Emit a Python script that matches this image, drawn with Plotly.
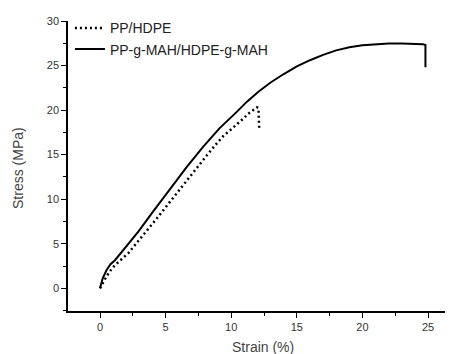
import plotly.graph_objects as go

strain_pp = [0, 0.25, 0.5, 0.8, 1.14, 1.6, 2.16, 2.8, 3.43, 4.2, 4.95, 5.72, 6.73, 7.4, 8.13, 8.8, 9.4, 10.0, 10.54, 11.0, 11.3, 11.6, 11.8, 11.95, 12.07, 12.12, 12.14]
stress_pp = [0, 0.75, 1.35, 2.0, 2.6, 3.2, 3.95, 5.1, 6.2, 7.6, 9.0, 10.45, 12.3, 13.6, 14.9, 16.1, 17.1, 17.85, 18.5, 19.15, 19.6, 19.95, 20.2, 20.3, 20.25, 19.0, 17.7]

strain_mah = [0, 0.2, 0.5, 0.8, 1.14, 2.0, 2.92, 3.94, 5.34, 6.6, 7.87, 9.1, 10.42, 11.2, 12.07, 13.0, 14.0, 15.0, 16.0, 17.0, 18.0, 19.0, 20.0, 21.0, 22.0, 23.0, 24.0, 24.6, 24.8, 24.8]
stress_mah = [0, 1.1, 2.05, 2.7, 3.15, 4.7, 6.36, 8.4, 11.2, 13.6, 15.9, 17.95, 19.8, 20.95, 22.06, 23.1, 24.05, 24.9, 25.6, 26.2, 26.7, 27.05, 27.28, 27.42, 27.48, 27.48, 27.45, 27.4, 27.3, 24.8]

fig = go.Figure()
fig.add_trace(go.Scatter(x=strain_pp, y=stress_pp, mode="lines", name="PP/HDPE",
                         line=dict(color="black", width=2.5, dash="2px,3px")))
fig.add_trace(go.Scatter(x=strain_mah, y=stress_mah, mode="lines", name="PP-g-MAH/HDPE-g-MAH",
                         line=dict(color="black", width=2)))

ff = "Liberation Sans, Arial"
axis_font = dict(family=ff, size=11, color="#333")
# page body has an 8px default margin; figure is sized to compensate
fig.update_layout(
    width=445, height=346,
    margin=dict(l=60, r=0, t=13, b=43),
    paper_bgcolor="white", plot_bgcolor="white",
    showlegend=True,
    legend=dict(x=0.005, y=1.03, xanchor="left", yanchor="top",
                font=dict(family=ff, size=14, color="#222"),
                bgcolor="rgba(0,0,0,0)", tracegroupgap=0, itemwidth=30),
    xaxis=dict(range=[-2.44, 26.9], showgrid=False, zeroline=False, automargin=False,
               showline=True, linecolor="black", linewidth=1.5,
               ticks="outside", ticklen=5, tickcolor="black", dtick=5, tick0=0,
               tickfont=axis_font,
               minor=dict(ticks="outside", ticklen=3, dtick=2.5, tick0=0, tickcolor="black")),
    yaxis=dict(range=[-2.55, 30], showgrid=False, zeroline=False, automargin=False,
               showline=True, linecolor="black", linewidth=1.5,
               ticks="outside", ticklen=5, tickcolor="black", dtick=5, tick0=0,
               tickfont=axis_font,
               minor=dict(ticks="outside", ticklen=3, dtick=2.5, tick0=0, tickcolor="black")),
    annotations=[
        dict(text="Strain (%)", xref="paper", yref="paper", x=(263 - 68) / 385, y=-(347 - 311) / 290,
             xanchor="center", yanchor="middle", showarrow=False,
             font=dict(family=ff, size=14, color="#444")),
        dict(text="Stress (MPa)", xref="paper", yref="paper", x=-(68 - 18) / 385, y=(311 - 168) / 290,
             xanchor="center", yanchor="middle", showarrow=False, textangle=-90,
             font=dict(family=ff, size=14, color="#444")),
    ],
)
fig.write_html("out.html")
